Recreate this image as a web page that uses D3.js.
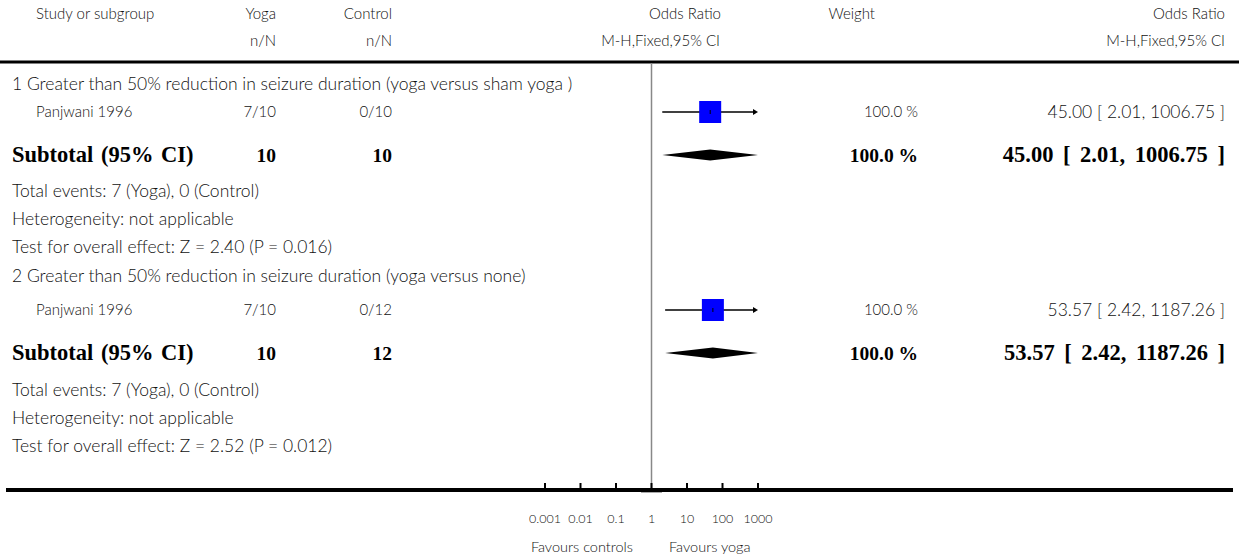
<!DOCTYPE html>
<meta charset="utf-8">
<title>Forest plot</title>
<style>
body { margin: 0; background: #fff; }
text { font-family: Lato, "Open Sans", sans-serif; font-weight: 300; font-size: 15px; fill: #111; }
text.big { font-size: 17.5px; }
text.bold { font-family: "Liberation Serif", "DejaVu Serif", serif; font-weight: bold; font-size: 19.5px; fill: #000; }
text.bold.wide { font-size: 22.5px; word-spacing: 2px; }
text.bold.wide.or { word-spacing: 4px; }
</style>
<body>
<script src="https://cdnjs.cloudflare.com/ajax/libs/d3/7.8.5/d3.min.js"></script>
<script>
var w = 1239, h = 560;

var groupTitles = ["1 Greater than 50% reduction in seizure duration (yoga versus sham yoga )",
                   "2 Greater than 50% reduction in seizure duration (yoga versus none)"];
var studyNames = ["Panjwani 1996", "Panjwani 1996"];
var yogaEvents = [7, 7], yogaTotals = [10, 10];
var ctrlEvents = [0, 0], ctrlTotals = [10, 12];
var oddsRatio = [45.00, 53.57];
var ciLow = [2.01, 2.42];
var ciHigh = [1006.75, 1187.26];
var weights = [100.0, 100.0];
var zText = ["2.40", "2.52"], pText = ["0.016", "0.012"];
var tickValues = [0.001, 0.01, 0.1, 1, 10, 100, 1000];
var tickLabels = ["0.001", "0.01", "0.1", "1", "10", "100", "1000"];

var svg = d3.select("body").append("svg")
    .attr("width", w)
    .attr("height", h);

var x = d3.scaleLog().domain([0.001, 1000]).range([545, 758]);

function txt(s, xx, yy, anchor, cls) {
  return svg.append("text").attr("x", xx).attr("y", yy)
    .attr("text-anchor", anchor || "start")
    .attr("class", cls || null)
    .text(s);
}
function fmt(v) { return v.toFixed(2); }

// header
txt("Study or subgroup", 36, 19);
txt("Yoga", 276, 19, "end");
txt("n/N", 276, 46, "end");
txt("Control", 392, 19, "end");
txt("n/N", 392, 46, "end");
txt("Odds Ratio", 721, 19, "end");
txt("M-H,Fixed,95% CI", 720, 46, "end");
txt("Weight", 875, 19, "end");
txt("Odds Ratio", 1225, 19, "end");
txt("M-H,Fixed,95% CI", 1225, 46, "end");

svg.append("line").attr("x1", 0).attr("x2", w).attr("y1", 62).attr("y2", 62)
    .attr("stroke", "#000").attr("stroke-width", 3);

// null line
svg.append("line").attr("x1", x(1)).attr("x2", x(1)).attr("y1", 63).attr("y2", 490)
    .attr("stroke", "#888").attr("stroke-width", 1.5);

var groupTop = [84, 276];
var offsets = [
  { study: 28, sub: 71, tot: 107, het: 135, test: 163 },
  { study: 34, sub: 77, tot: 114, het: 142, test: 170 }
];

groupTitles.forEach(function(title, i) {
  var o = offsets[i];
  var y0 = groupTop[i];
  var yStudy = y0 + o.study, ySub = y0 + o.sub;
  txt(title, 12, y0 + 6, "start", "big");
  txt(studyNames[i], 36, yStudy + 5);
  txt(yogaEvents[i] + "/" + yogaTotals[i], 276, yStudy + 5, "end");
  txt(ctrlEvents[i] + "/" + ctrlTotals[i], 392, yStudy + 5, "end");
  txt(weights[i].toFixed(1) + " %", 918, yStudy + 5, "end");
  txt(fmt(oddsRatio[i]) + " [ " + fmt(ciLow[i]) + ", " + fmt(ciHigh[i]) + " ]", 1225, yStudy + 6, "end", "big");

  txt("Subtotal (95% CI)", 12, ySub + 7, "start", "bold wide");
  txt(yogaTotals[i], 276, ySub + 7, "end", "bold");
  txt(ctrlTotals[i], 392, ySub + 7, "end", "bold");
  txt(weights[i].toFixed(1) + " %", 918, ySub + 7, "end", "bold");
  txt(fmt(oddsRatio[i]) + " [ " + fmt(ciLow[i]) + ", " + fmt(ciHigh[i]) + " ]", 1225, ySub + 7, "end", "bold wide or");

  txt("Total events: " + yogaEvents[i] + " (Yoga), " + ctrlEvents[i] + " (Control)", 12, y0 + o.tot + 6, "start", "big");
  txt("Heterogeneity: not applicable", 12, y0 + o.het + 6, "start", "big");
  txt("Test for overall effect: Z = " + zText[i] + " (P = " + pText[i] + ")", 12, y0 + o.test + 6, "start", "big");

  // CI line, clipped at axis max with arrow
  var hiC = Math.min(ciHigh[i], 1000);
  var xe = x(hiC);
  svg.append("line").attr("x1", x(ciLow[i])).attr("x2", xe - 4)
      .attr("y1", yStudy).attr("y2", yStudy)
      .attr("stroke", "#000").attr("stroke-width", 1.5);
  if (ciHigh[i] > 1000) {
    svg.append("path")
        .attr("d", "M" + (xe - 5) + "," + (yStudy - 3) + "L" + xe + "," + yStudy + "L" + (xe - 5) + "," + (yStudy + 3) + "Z")
        .attr("fill", "#000");
  }
  var bs = 22;
  svg.append("rect").attr("x", x(oddsRatio[i]) - bs / 2).attr("y", yStudy - bs / 2)
      .attr("width", bs).attr("height", bs).attr("fill", "#0000ff");
  svg.append("line").attr("x1", x(oddsRatio[i])).attr("x2", x(oddsRatio[i]))
      .attr("y1", yStudy - 2).attr("y2", yStudy + 2)
      .attr("stroke", "#000").attr("stroke-width", 1);

  // diamond
  var dh = 5.5;
  svg.append("path")
      .attr("d", "M" + x(ciLow[i]) + "," + ySub +
                 "L" + x(oddsRatio[i]) + "," + (ySub - dh) +
                 "L" + xe + "," + ySub +
                 "L" + x(oddsRatio[i]) + "," + (ySub + dh) + "Z")
      .attr("fill", "#000");
});

// axis
var axisY = 490;
svg.append("line").attr("x1", 6).attr("x2", 1233).attr("y1", axisY).attr("y2", axisY)
    .attr("stroke", "#000").attr("stroke-width", 4);
svg.append("line").attr("x1", 641).attr("x2", 662).attr("y1", axisY + 2.5).attr("y2", axisY + 2.5)
    .attr("stroke", "#aaa").attr("stroke-width", 1);
svg.selectAll(".tick").data(tickValues).enter().append("line")
    .attr("x1", function(d) { return x(d); }).attr("x2", function(d) { return x(d); })
    .attr("y1", axisY - 7).attr("y2", axisY)
    .attr("stroke", "#000").attr("stroke-width", 2);
svg.selectAll(".ticklab").data(tickValues).enter().append("text")
    .attr("x", function(d) { return x(d); }).attr("y", 523)
    .attr("text-anchor", "middle")
    .style("font-size", "12.5px")
    .text(function(d, i) { return tickLabels[i]; });
txt("Favours controls", 633, 552, "end").style("font-size", "14.5px");
txt("Favours yoga", 669, 552, "start").style("font-size", "14.5px");
</script>
</body>
